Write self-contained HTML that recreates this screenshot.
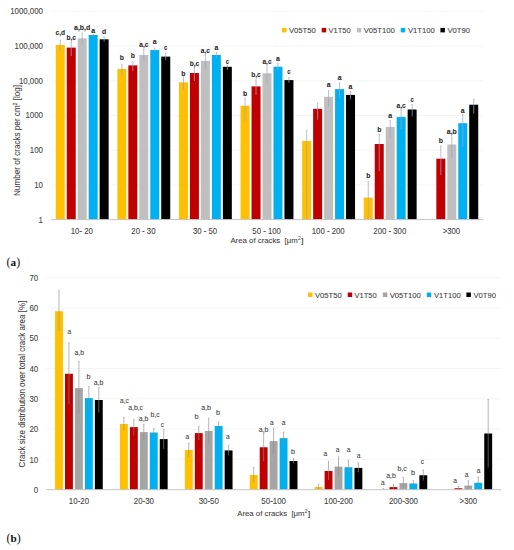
<!DOCTYPE html>
<html><head><meta charset="utf-8"><style>
html,body{margin:0;padding:0;background:#fff;}
svg{display:block;font-family:"Liberation Sans",sans-serif;}
</style></head><body>
<svg width="514" height="550" viewBox="0 0 514 550">
<rect width="514" height="550" fill="#fff"/>
<line x1="51.00" y1="184.90" x2="483.00" y2="184.90" stroke="#f2f2f2" stroke-width="0.8" stroke-opacity="1"/>
<line x1="51.00" y1="150.20" x2="483.00" y2="150.20" stroke="#f2f2f2" stroke-width="0.8" stroke-opacity="1"/>
<line x1="51.00" y1="115.50" x2="483.00" y2="115.50" stroke="#f2f2f2" stroke-width="0.8" stroke-opacity="1"/>
<line x1="51.00" y1="80.80" x2="483.00" y2="80.80" stroke="#f2f2f2" stroke-width="0.8" stroke-opacity="1"/>
<line x1="51.00" y1="46.10" x2="483.00" y2="46.10" stroke="#f2f2f2" stroke-width="0.8" stroke-opacity="1"/>
<line x1="51.00" y1="11.40" x2="483.00" y2="11.40" stroke="#f2f2f2" stroke-width="0.8" stroke-opacity="1"/>
<text x="38.61" y="222.55" font-size="8.4" fill="#404040" stroke="#404040" stroke-width="0.08" textLength="4.39" lengthAdjust="spacingAndGlyphs">1</text>
<text x="34.23" y="187.85" font-size="8.4" fill="#404040" stroke="#404040" stroke-width="0.08" textLength="8.77" lengthAdjust="spacingAndGlyphs">10</text>
<text x="29.84" y="153.15" font-size="8.4" fill="#404040" stroke="#404040" stroke-width="0.08" textLength="13.16" lengthAdjust="spacingAndGlyphs">100</text>
<text x="25.46" y="118.45" font-size="8.4" fill="#404040" stroke="#404040" stroke-width="0.08" textLength="17.54" lengthAdjust="spacingAndGlyphs">1000</text>
<text x="18.91" y="83.75" font-size="8.4" fill="#404040" stroke="#404040" stroke-width="0.08" textLength="24.09" lengthAdjust="spacingAndGlyphs">10,000</text>
<text x="14.52" y="49.05" font-size="8.4" fill="#404040" stroke="#404040" stroke-width="0.08" textLength="28.48" lengthAdjust="spacingAndGlyphs">100,000</text>
<text x="10.14" y="14.35" font-size="8.4" fill="#404040" stroke="#404040" stroke-width="0.08" textLength="32.86" lengthAdjust="spacingAndGlyphs">1000,000</text>
<rect x="55.76" y="44.90" width="9.00" height="174.70" fill="#FFC000"/>
<rect x="66.73" y="47.60" width="9.00" height="172.00" fill="#C00000"/>
<rect x="77.70" y="38.40" width="9.00" height="181.20" fill="#BFBFBF"/>
<rect x="88.67" y="35.00" width="9.00" height="184.60" fill="#00B0F0"/>
<rect x="99.64" y="39.30" width="9.00" height="180.30" fill="#000000"/>
<rect x="117.36" y="68.90" width="9.00" height="150.70" fill="#FFC000"/>
<rect x="128.33" y="65.40" width="9.00" height="154.20" fill="#C00000"/>
<rect x="139.30" y="55.00" width="9.00" height="164.60" fill="#BFBFBF"/>
<rect x="150.27" y="50.00" width="9.00" height="169.60" fill="#00B0F0"/>
<rect x="161.24" y="56.60" width="9.00" height="163.00" fill="#000000"/>
<rect x="178.96" y="82.30" width="9.00" height="137.30" fill="#FFC000"/>
<rect x="189.93" y="73.00" width="9.00" height="146.60" fill="#C00000"/>
<rect x="200.90" y="60.90" width="9.00" height="158.70" fill="#BFBFBF"/>
<rect x="211.87" y="55.00" width="9.00" height="164.60" fill="#00B0F0"/>
<rect x="222.84" y="66.80" width="9.00" height="152.80" fill="#000000"/>
<rect x="240.56" y="105.70" width="9.00" height="113.90" fill="#FFC000"/>
<rect x="251.53" y="86.40" width="9.00" height="133.20" fill="#C00000"/>
<rect x="262.50" y="73.30" width="9.00" height="146.30" fill="#BFBFBF"/>
<rect x="273.47" y="66.70" width="9.00" height="152.90" fill="#00B0F0"/>
<rect x="284.44" y="80.10" width="9.00" height="139.50" fill="#000000"/>
<rect x="302.16" y="141.00" width="9.00" height="78.60" fill="#FFC000"/>
<rect x="313.13" y="108.80" width="9.00" height="110.80" fill="#C00000"/>
<rect x="324.10" y="96.80" width="9.00" height="122.80" fill="#BFBFBF"/>
<rect x="335.07" y="89.10" width="9.00" height="130.50" fill="#00B0F0"/>
<rect x="346.04" y="94.90" width="9.00" height="124.70" fill="#000000"/>
<rect x="363.76" y="197.60" width="9.00" height="22.00" fill="#FFC000"/>
<rect x="374.73" y="144.00" width="9.00" height="75.60" fill="#C00000"/>
<rect x="385.70" y="126.90" width="9.00" height="92.70" fill="#BFBFBF"/>
<rect x="396.67" y="116.90" width="9.00" height="102.70" fill="#00B0F0"/>
<rect x="407.64" y="109.50" width="9.00" height="110.10" fill="#000000"/>
<rect x="436.33" y="158.70" width="9.00" height="60.90" fill="#C00000"/>
<rect x="447.30" y="144.50" width="9.00" height="75.10" fill="#BFBFBF"/>
<rect x="458.27" y="123.20" width="9.00" height="96.40" fill="#00B0F0"/>
<rect x="469.24" y="104.70" width="9.00" height="114.90" fill="#000000"/>
<line x1="60.26" y1="40.20" x2="60.26" y2="51.00" stroke="#9aa6c4" stroke-width="0.8" stroke-opacity="0.9"/>
<line x1="59.46" y1="40.20" x2="61.06" y2="40.20" stroke="#9aa6c4" stroke-width="0.6" stroke-opacity="0.9"/>
<text x="55.53" y="34.80" font-size="7.6" fill="#262626" stroke="#262626" stroke-width="0.08" textLength="9.46" lengthAdjust="spacingAndGlyphs" font-weight="bold">c,d</text>
<line x1="71.23" y1="42.40" x2="71.23" y2="56.00" stroke="#9aa6c4" stroke-width="0.8" stroke-opacity="0.9"/>
<line x1="70.43" y1="42.40" x2="72.03" y2="42.40" stroke="#9aa6c4" stroke-width="0.6" stroke-opacity="0.9"/>
<text x="66.50" y="40.00" font-size="7.6" fill="#262626" stroke="#262626" stroke-width="0.08" textLength="9.46" lengthAdjust="spacingAndGlyphs" font-weight="bold">b,c</text>
<line x1="82.20" y1="33.00" x2="82.20" y2="45.00" stroke="#9aa6c4" stroke-width="0.8" stroke-opacity="0.9"/>
<line x1="81.40" y1="33.00" x2="83.00" y2="33.00" stroke="#9aa6c4" stroke-width="0.6" stroke-opacity="0.9"/>
<text x="74.07" y="29.70" font-size="7.6" fill="#262626" stroke="#262626" stroke-width="0.08" textLength="16.26" lengthAdjust="spacingAndGlyphs" font-weight="bold">a,b,d</text>
<line x1="93.17" y1="34.30" x2="93.17" y2="36.00" stroke="#9aa6c4" stroke-width="0.8" stroke-opacity="0.9"/>
<line x1="92.37" y1="34.30" x2="93.97" y2="34.30" stroke="#9aa6c4" stroke-width="0.6" stroke-opacity="0.9"/>
<text x="91.24" y="32.50" font-size="7.6" fill="#262626" stroke="#262626" stroke-width="0.08" textLength="3.85" lengthAdjust="spacingAndGlyphs" font-weight="bold">a</text>
<line x1="104.14" y1="36.80" x2="104.14" y2="41.80" stroke="#9aa6c4" stroke-width="0.8" stroke-opacity="0.9"/>
<line x1="103.34" y1="36.80" x2="104.94" y2="36.80" stroke="#9aa6c4" stroke-width="0.6" stroke-opacity="0.9"/>
<text x="102.05" y="33.50" font-size="7.6" fill="#262626" stroke="#262626" stroke-width="0.08" textLength="4.19" lengthAdjust="spacingAndGlyphs" font-weight="bold">d</text>
<line x1="121.86" y1="64.30" x2="121.86" y2="76.00" stroke="#9aa6c4" stroke-width="0.8" stroke-opacity="0.9"/>
<line x1="121.06" y1="64.30" x2="122.66" y2="64.30" stroke="#9aa6c4" stroke-width="0.6" stroke-opacity="0.9"/>
<text x="119.77" y="60.00" font-size="7.6" fill="#262626" stroke="#262626" stroke-width="0.08" textLength="4.19" lengthAdjust="spacingAndGlyphs" font-weight="bold">b</text>
<line x1="132.83" y1="61.20" x2="132.83" y2="71.00" stroke="#9aa6c4" stroke-width="0.8" stroke-opacity="0.9"/>
<line x1="132.03" y1="61.20" x2="133.63" y2="61.20" stroke="#9aa6c4" stroke-width="0.6" stroke-opacity="0.9"/>
<text x="130.74" y="57.50" font-size="7.6" fill="#262626" stroke="#262626" stroke-width="0.08" textLength="4.19" lengthAdjust="spacingAndGlyphs" font-weight="bold">b</text>
<line x1="143.80" y1="49.70" x2="143.80" y2="61.80" stroke="#9aa6c4" stroke-width="0.8" stroke-opacity="0.9"/>
<line x1="143.00" y1="49.70" x2="144.60" y2="49.70" stroke="#9aa6c4" stroke-width="0.6" stroke-opacity="0.9"/>
<text x="139.24" y="46.90" font-size="7.6" fill="#262626" stroke="#262626" stroke-width="0.08" textLength="9.13" lengthAdjust="spacingAndGlyphs" font-weight="bold">a,c</text>
<line x1="154.77" y1="48.00" x2="154.77" y2="52.00" stroke="#9aa6c4" stroke-width="0.8" stroke-opacity="0.9"/>
<line x1="153.97" y1="48.00" x2="155.57" y2="48.00" stroke="#9aa6c4" stroke-width="0.6" stroke-opacity="0.9"/>
<text x="152.84" y="43.70" font-size="7.6" fill="#262626" stroke="#262626" stroke-width="0.08" textLength="3.85" lengthAdjust="spacingAndGlyphs" font-weight="bold">a</text>
<line x1="165.74" y1="53.00" x2="165.74" y2="60.00" stroke="#9aa6c4" stroke-width="0.8" stroke-opacity="0.9"/>
<line x1="164.94" y1="53.00" x2="166.54" y2="53.00" stroke="#9aa6c4" stroke-width="0.6" stroke-opacity="0.9"/>
<text x="164.11" y="49.70" font-size="7.6" fill="#262626" stroke="#262626" stroke-width="0.08" textLength="3.26" lengthAdjust="spacingAndGlyphs" font-weight="bold">c</text>
<line x1="183.46" y1="76.70" x2="183.46" y2="89.80" stroke="#9aa6c4" stroke-width="0.8" stroke-opacity="0.9"/>
<line x1="182.66" y1="76.70" x2="184.26" y2="76.70" stroke="#9aa6c4" stroke-width="0.6" stroke-opacity="0.9"/>
<text x="181.37" y="75.50" font-size="7.6" fill="#262626" stroke="#262626" stroke-width="0.08" textLength="4.19" lengthAdjust="spacingAndGlyphs" font-weight="bold">b</text>
<line x1="194.43" y1="66.80" x2="194.43" y2="81.00" stroke="#9aa6c4" stroke-width="0.8" stroke-opacity="0.9"/>
<line x1="193.63" y1="66.80" x2="195.23" y2="66.80" stroke="#9aa6c4" stroke-width="0.6" stroke-opacity="0.9"/>
<text x="189.70" y="66.20" font-size="7.6" fill="#262626" stroke="#262626" stroke-width="0.08" textLength="9.46" lengthAdjust="spacingAndGlyphs" font-weight="bold">b,c</text>
<line x1="205.40" y1="55.00" x2="205.40" y2="69.30" stroke="#9aa6c4" stroke-width="0.8" stroke-opacity="0.9"/>
<line x1="204.60" y1="55.00" x2="206.20" y2="55.00" stroke="#9aa6c4" stroke-width="0.6" stroke-opacity="0.9"/>
<text x="200.84" y="53.10" font-size="7.6" fill="#262626" stroke="#262626" stroke-width="0.08" textLength="9.13" lengthAdjust="spacingAndGlyphs" font-weight="bold">a,c</text>
<line x1="216.37" y1="52.50" x2="216.37" y2="57.50" stroke="#9aa6c4" stroke-width="0.8" stroke-opacity="0.9"/>
<line x1="215.57" y1="52.50" x2="217.17" y2="52.50" stroke="#9aa6c4" stroke-width="0.6" stroke-opacity="0.9"/>
<text x="214.44" y="50.00" font-size="7.6" fill="#262626" stroke="#262626" stroke-width="0.08" textLength="3.85" lengthAdjust="spacingAndGlyphs" font-weight="bold">a</text>
<line x1="227.34" y1="65.00" x2="227.34" y2="70.00" stroke="#9aa6c4" stroke-width="0.8" stroke-opacity="0.9"/>
<line x1="226.54" y1="65.00" x2="228.14" y2="65.00" stroke="#9aa6c4" stroke-width="0.6" stroke-opacity="0.9"/>
<text x="225.71" y="63.70" font-size="7.6" fill="#262626" stroke="#262626" stroke-width="0.08" textLength="3.26" lengthAdjust="spacingAndGlyphs" font-weight="bold">c</text>
<line x1="245.06" y1="98.00" x2="245.06" y2="121.30" stroke="#9aa6c4" stroke-width="0.8" stroke-opacity="0.9"/>
<line x1="244.26" y1="98.00" x2="245.86" y2="98.00" stroke="#9aa6c4" stroke-width="0.6" stroke-opacity="0.9"/>
<text x="242.97" y="96.30" font-size="7.6" fill="#262626" stroke="#262626" stroke-width="0.08" textLength="4.19" lengthAdjust="spacingAndGlyphs" font-weight="bold">b</text>
<line x1="256.03" y1="79.80" x2="256.03" y2="95.00" stroke="#9aa6c4" stroke-width="0.8" stroke-opacity="0.9"/>
<line x1="255.23" y1="79.80" x2="256.83" y2="79.80" stroke="#9aa6c4" stroke-width="0.6" stroke-opacity="0.9"/>
<text x="251.30" y="77.30" font-size="7.6" fill="#262626" stroke="#262626" stroke-width="0.08" textLength="9.46" lengthAdjust="spacingAndGlyphs" font-weight="bold">b,c</text>
<line x1="267.00" y1="66.70" x2="267.00" y2="84.20" stroke="#9aa6c4" stroke-width="0.8" stroke-opacity="0.9"/>
<line x1="266.20" y1="66.70" x2="267.80" y2="66.70" stroke="#9aa6c4" stroke-width="0.6" stroke-opacity="0.9"/>
<text x="262.44" y="64.10" font-size="7.6" fill="#262626" stroke="#262626" stroke-width="0.08" textLength="9.13" lengthAdjust="spacingAndGlyphs" font-weight="bold">a,c</text>
<line x1="277.97" y1="63.10" x2="277.97" y2="70.40" stroke="#9aa6c4" stroke-width="0.8" stroke-opacity="0.9"/>
<line x1="277.17" y1="63.10" x2="278.77" y2="63.10" stroke="#9aa6c4" stroke-width="0.6" stroke-opacity="0.9"/>
<text x="276.04" y="60.50" font-size="7.6" fill="#262626" stroke="#262626" stroke-width="0.08" textLength="3.85" lengthAdjust="spacingAndGlyphs" font-weight="bold">a</text>
<line x1="288.94" y1="77.60" x2="288.94" y2="82.70" stroke="#9aa6c4" stroke-width="0.8" stroke-opacity="0.9"/>
<line x1="288.14" y1="77.60" x2="289.74" y2="77.60" stroke="#9aa6c4" stroke-width="0.6" stroke-opacity="0.9"/>
<text x="287.31" y="74.30" font-size="7.6" fill="#262626" stroke="#262626" stroke-width="0.08" textLength="3.26" lengthAdjust="spacingAndGlyphs" font-weight="bold">c</text>
<line x1="306.66" y1="130.20" x2="306.66" y2="219.60" stroke="#9aa6c4" stroke-width="0.8" stroke-opacity="0.9"/>
<line x1="305.86" y1="130.20" x2="307.46" y2="130.20" stroke="#9aa6c4" stroke-width="0.6" stroke-opacity="0.9"/>
<line x1="317.63" y1="102.90" x2="317.63" y2="119.70" stroke="#9aa6c4" stroke-width="0.8" stroke-opacity="0.9"/>
<line x1="316.83" y1="102.90" x2="318.43" y2="102.90" stroke="#9aa6c4" stroke-width="0.6" stroke-opacity="0.9"/>
<line x1="328.60" y1="90.30" x2="328.60" y2="106.60" stroke="#9aa6c4" stroke-width="0.8" stroke-opacity="0.9"/>
<line x1="327.80" y1="90.30" x2="329.40" y2="90.30" stroke="#9aa6c4" stroke-width="0.6" stroke-opacity="0.9"/>
<text x="326.67" y="87.00" font-size="7.6" fill="#262626" stroke="#262626" stroke-width="0.08" textLength="3.85" lengthAdjust="spacingAndGlyphs" font-weight="bold">a</text>
<line x1="339.57" y1="82.90" x2="339.57" y2="97.60" stroke="#9aa6c4" stroke-width="0.8" stroke-opacity="0.9"/>
<line x1="338.77" y1="82.90" x2="340.37" y2="82.90" stroke="#9aa6c4" stroke-width="0.6" stroke-opacity="0.9"/>
<text x="337.64" y="79.60" font-size="7.6" fill="#262626" stroke="#262626" stroke-width="0.08" textLength="3.85" lengthAdjust="spacingAndGlyphs" font-weight="bold">a</text>
<line x1="350.54" y1="91.10" x2="350.54" y2="99.30" stroke="#9aa6c4" stroke-width="0.8" stroke-opacity="0.9"/>
<line x1="349.74" y1="91.10" x2="351.34" y2="91.10" stroke="#9aa6c4" stroke-width="0.6" stroke-opacity="0.9"/>
<text x="348.61" y="89.10" font-size="7.6" fill="#262626" stroke="#262626" stroke-width="0.08" textLength="3.85" lengthAdjust="spacingAndGlyphs" font-weight="bold">a</text>
<line x1="368.26" y1="181.00" x2="368.26" y2="219.60" stroke="#9aa6c4" stroke-width="0.8" stroke-opacity="0.9"/>
<line x1="367.46" y1="181.00" x2="369.06" y2="181.00" stroke="#9aa6c4" stroke-width="0.6" stroke-opacity="0.9"/>
<text x="366.17" y="177.70" font-size="7.6" fill="#262626" stroke="#262626" stroke-width="0.08" textLength="4.19" lengthAdjust="spacingAndGlyphs" font-weight="bold">b</text>
<line x1="379.23" y1="134.50" x2="379.23" y2="171.00" stroke="#9aa6c4" stroke-width="0.8" stroke-opacity="0.9"/>
<line x1="378.43" y1="134.50" x2="380.03" y2="134.50" stroke="#9aa6c4" stroke-width="0.6" stroke-opacity="0.9"/>
<text x="377.14" y="131.50" font-size="7.6" fill="#262626" stroke="#262626" stroke-width="0.08" textLength="4.19" lengthAdjust="spacingAndGlyphs" font-weight="bold">b</text>
<line x1="390.20" y1="120.50" x2="390.20" y2="138.20" stroke="#9aa6c4" stroke-width="0.8" stroke-opacity="0.9"/>
<line x1="389.40" y1="120.50" x2="391.00" y2="120.50" stroke="#9aa6c4" stroke-width="0.6" stroke-opacity="0.9"/>
<text x="388.27" y="118.20" font-size="7.6" fill="#262626" stroke="#262626" stroke-width="0.08" textLength="3.85" lengthAdjust="spacingAndGlyphs" font-weight="bold">a</text>
<line x1="401.17" y1="110.00" x2="401.17" y2="129.00" stroke="#9aa6c4" stroke-width="0.8" stroke-opacity="0.9"/>
<line x1="400.37" y1="110.00" x2="401.97" y2="110.00" stroke="#9aa6c4" stroke-width="0.6" stroke-opacity="0.9"/>
<text x="396.61" y="108.20" font-size="7.6" fill="#262626" stroke="#262626" stroke-width="0.08" textLength="9.13" lengthAdjust="spacingAndGlyphs" font-weight="bold">a,c</text>
<line x1="412.14" y1="104.50" x2="412.14" y2="116.40" stroke="#9aa6c4" stroke-width="0.8" stroke-opacity="0.9"/>
<line x1="411.34" y1="104.50" x2="412.94" y2="104.50" stroke="#9aa6c4" stroke-width="0.6" stroke-opacity="0.9"/>
<text x="410.51" y="101.80" font-size="7.6" fill="#262626" stroke="#262626" stroke-width="0.08" textLength="3.26" lengthAdjust="spacingAndGlyphs" font-weight="bold">c</text>
<line x1="440.83" y1="146.00" x2="440.83" y2="175.00" stroke="#9aa6c4" stroke-width="0.8" stroke-opacity="0.9"/>
<line x1="440.03" y1="146.00" x2="441.63" y2="146.00" stroke="#9aa6c4" stroke-width="0.6" stroke-opacity="0.9"/>
<text x="438.74" y="142.70" font-size="7.6" fill="#262626" stroke="#262626" stroke-width="0.08" textLength="4.19" lengthAdjust="spacingAndGlyphs" font-weight="bold">b</text>
<line x1="451.80" y1="137.10" x2="451.80" y2="158.70" stroke="#9aa6c4" stroke-width="0.8" stroke-opacity="0.9"/>
<line x1="451.00" y1="137.10" x2="452.60" y2="137.10" stroke="#9aa6c4" stroke-width="0.6" stroke-opacity="0.9"/>
<text x="446.77" y="133.90" font-size="7.6" fill="#262626" stroke="#262626" stroke-width="0.08" textLength="10.05" lengthAdjust="spacingAndGlyphs" font-weight="bold">a,b</text>
<line x1="462.77" y1="114.20" x2="462.77" y2="147.30" stroke="#9aa6c4" stroke-width="0.8" stroke-opacity="0.9"/>
<line x1="461.97" y1="114.20" x2="463.57" y2="114.20" stroke="#9aa6c4" stroke-width="0.6" stroke-opacity="0.9"/>
<text x="460.84" y="112.60" font-size="7.6" fill="#262626" stroke="#262626" stroke-width="0.08" textLength="3.85" lengthAdjust="spacingAndGlyphs" font-weight="bold">a</text>
<line x1="473.74" y1="99.00" x2="473.74" y2="113.70" stroke="#9aa6c4" stroke-width="0.8" stroke-opacity="0.9"/>
<line x1="472.94" y1="99.00" x2="474.54" y2="99.00" stroke="#9aa6c4" stroke-width="0.6" stroke-opacity="0.9"/>
<line x1="51.00" y1="219.60" x2="483.00" y2="219.60" stroke="#c4c4c8" stroke-width="1" stroke-opacity="1"/>
<text x="70.73" y="233.90" font-size="8.4" fill="#404040" stroke="#404040" stroke-width="0.08" textLength="22.14" lengthAdjust="spacingAndGlyphs">10- 20</text>
<text x="131.35" y="233.90" font-size="8.4" fill="#404040" stroke="#404040" stroke-width="0.08" textLength="24.10" lengthAdjust="spacingAndGlyphs">20 - 30</text>
<text x="192.95" y="233.90" font-size="8.4" fill="#404040" stroke="#404040" stroke-width="0.08" textLength="24.10" lengthAdjust="spacingAndGlyphs">30 - 50</text>
<text x="252.36" y="233.90" font-size="8.4" fill="#404040" stroke="#404040" stroke-width="0.08" textLength="28.48" lengthAdjust="spacingAndGlyphs">50 - 100</text>
<text x="311.76" y="233.90" font-size="8.4" fill="#404040" stroke="#404040" stroke-width="0.08" textLength="32.87" lengthAdjust="spacingAndGlyphs">100 - 200</text>
<text x="373.37" y="233.90" font-size="8.4" fill="#404040" stroke="#404040" stroke-width="0.08" textLength="32.87" lengthAdjust="spacingAndGlyphs">200 - 300</text>
<text x="442.67" y="233.90" font-size="8.4" fill="#404040" stroke="#404040" stroke-width="0.08" textLength="17.46" lengthAdjust="spacingAndGlyphs">&gt;300</text>
<text x="230.40" y="243.10" font-size="8.1" fill="#404040" stroke="#404040" stroke-width="0.08" textLength="67.40" lengthAdjust="spacingAndGlyphs">Area of cracks&#160; [&#956;m</text>
<text x="297.90" y="240.30" font-size="4.9" fill="#404040">2</text>
<text x="300.90" y="243.10" font-size="8.1" fill="#404040" stroke="#404040" stroke-width="0.08" textLength="2.66" lengthAdjust="spacingAndGlyphs">]</text>
<text transform="translate(20.1,196.0) rotate(-90)" font-size="8.3" fill="#404040" stroke="#404040" stroke-width="0.08" textLength="111" lengthAdjust="spacingAndGlyphs">Number of cracks per cm<tspan font-size="5" dy="-3">2</tspan><tspan dy="3"> [log]</tspan></text>
<rect x="282.00" y="27.90" width="4.50" height="4.50" fill="#FFC000"/>
<text x="289.00" y="32.90" font-size="8.1" fill="#404040" stroke="#404040" stroke-width="0.08" textLength="26.76" lengthAdjust="spacingAndGlyphs">V05T50</text>
<rect x="321.70" y="27.90" width="4.50" height="4.50" fill="#C00000"/>
<text x="328.40" y="32.90" font-size="8.1" fill="#404040" stroke="#404040" stroke-width="0.08" textLength="22.38" lengthAdjust="spacingAndGlyphs">V1T50</text>
<rect x="356.80" y="27.90" width="4.50" height="4.50" fill="#BFBFBF"/>
<text x="363.70" y="32.90" font-size="8.1" fill="#404040" stroke="#404040" stroke-width="0.08" textLength="31.15" lengthAdjust="spacingAndGlyphs">V05T100</text>
<rect x="400.75" y="27.90" width="4.50" height="4.50" fill="#00B0F0"/>
<text x="407.90" y="32.90" font-size="8.1" fill="#404040" stroke="#404040" stroke-width="0.08" textLength="26.76" lengthAdjust="spacingAndGlyphs">V1T100</text>
<rect x="440.40" y="27.90" width="4.50" height="4.50" fill="#000000"/>
<text x="447.50" y="32.90" font-size="8.1" fill="#404040" stroke="#404040" stroke-width="0.08" textLength="22.38" lengthAdjust="spacingAndGlyphs">V0T90</text>
<text x="6.6" y="265.9" font-family="Liberation Serif" font-size="12" fill="#111">(<tspan font-size="11.2" font-weight="bold">a</tspan>)</text>
<line x1="46.50" y1="459.40" x2="501.10" y2="459.40" stroke="#f2f2f2" stroke-width="0.8" stroke-opacity="1"/>
<line x1="46.50" y1="429.10" x2="501.10" y2="429.10" stroke="#f2f2f2" stroke-width="0.8" stroke-opacity="1"/>
<line x1="46.50" y1="398.80" x2="501.10" y2="398.80" stroke="#f2f2f2" stroke-width="0.8" stroke-opacity="1"/>
<line x1="46.50" y1="368.50" x2="501.10" y2="368.50" stroke="#f2f2f2" stroke-width="0.8" stroke-opacity="1"/>
<line x1="46.50" y1="338.20" x2="501.10" y2="338.20" stroke="#f2f2f2" stroke-width="0.8" stroke-opacity="1"/>
<line x1="46.50" y1="307.90" x2="501.10" y2="307.90" stroke="#f2f2f2" stroke-width="0.8" stroke-opacity="1"/>
<line x1="46.50" y1="277.60" x2="501.10" y2="277.60" stroke="#f2f2f2" stroke-width="0.8" stroke-opacity="1"/>
<text x="33.81" y="492.80" font-size="8.4" fill="#404040" stroke="#404040" stroke-width="0.08" textLength="4.39" lengthAdjust="spacingAndGlyphs">0</text>
<text x="29.43" y="462.50" font-size="8.4" fill="#404040" stroke="#404040" stroke-width="0.08" textLength="8.77" lengthAdjust="spacingAndGlyphs">10</text>
<text x="29.43" y="432.20" font-size="8.4" fill="#404040" stroke="#404040" stroke-width="0.08" textLength="8.77" lengthAdjust="spacingAndGlyphs">20</text>
<text x="29.43" y="401.90" font-size="8.4" fill="#404040" stroke="#404040" stroke-width="0.08" textLength="8.77" lengthAdjust="spacingAndGlyphs">30</text>
<text x="29.43" y="371.60" font-size="8.4" fill="#404040" stroke="#404040" stroke-width="0.08" textLength="8.77" lengthAdjust="spacingAndGlyphs">40</text>
<text x="29.43" y="341.30" font-size="8.4" fill="#404040" stroke="#404040" stroke-width="0.08" textLength="8.77" lengthAdjust="spacingAndGlyphs">50</text>
<text x="29.43" y="311.00" font-size="8.4" fill="#404040" stroke="#404040" stroke-width="0.08" textLength="8.77" lengthAdjust="spacingAndGlyphs">60</text>
<text x="29.43" y="280.70" font-size="8.4" fill="#404040" stroke="#404040" stroke-width="0.08" textLength="8.77" lengthAdjust="spacingAndGlyphs">70</text>
<rect x="55.05" y="311.25" width="7.90" height="178.45" fill="#FFC000"/>
<rect x="65.00" y="373.75" width="7.90" height="115.95" fill="#C00000"/>
<rect x="74.95" y="388.10" width="7.90" height="101.60" fill="#A5A5A5"/>
<rect x="84.90" y="398.10" width="7.90" height="91.60" fill="#00B0F0"/>
<rect x="94.85" y="400.00" width="7.90" height="89.70" fill="#000000"/>
<rect x="119.95" y="424.00" width="7.90" height="65.70" fill="#FFC000"/>
<rect x="129.90" y="427.10" width="7.90" height="62.60" fill="#C00000"/>
<rect x="139.85" y="432.10" width="7.90" height="57.60" fill="#A5A5A5"/>
<rect x="149.80" y="432.50" width="7.90" height="57.20" fill="#00B0F0"/>
<rect x="159.75" y="439.10" width="7.90" height="50.60" fill="#000000"/>
<rect x="184.85" y="450.00" width="7.90" height="39.70" fill="#FFC000"/>
<rect x="194.80" y="433.10" width="7.90" height="56.60" fill="#C00000"/>
<rect x="204.75" y="431.00" width="7.90" height="58.70" fill="#A5A5A5"/>
<rect x="214.70" y="426.00" width="7.90" height="63.70" fill="#00B0F0"/>
<rect x="224.65" y="450.40" width="7.90" height="39.30" fill="#000000"/>
<rect x="249.75" y="475.00" width="7.90" height="14.70" fill="#FFC000"/>
<rect x="259.70" y="447.25" width="7.90" height="42.45" fill="#C00000"/>
<rect x="269.65" y="441.10" width="7.90" height="48.60" fill="#A5A5A5"/>
<rect x="279.60" y="438.10" width="7.90" height="51.60" fill="#00B0F0"/>
<rect x="289.55" y="461.00" width="7.90" height="28.70" fill="#000000"/>
<rect x="314.65" y="487.00" width="7.90" height="2.70" fill="#FFC000"/>
<rect x="324.60" y="471.00" width="7.90" height="18.70" fill="#C00000"/>
<rect x="334.55" y="466.60" width="7.90" height="23.10" fill="#A5A5A5"/>
<rect x="344.50" y="467.25" width="7.90" height="22.45" fill="#00B0F0"/>
<rect x="354.45" y="467.90" width="7.90" height="21.80" fill="#000000"/>
<rect x="379.55" y="489.30" width="7.90" height="0.40" fill="#FFC000"/>
<rect x="389.50" y="487.10" width="7.90" height="2.60" fill="#C00000"/>
<rect x="399.45" y="483.10" width="7.90" height="6.60" fill="#A5A5A5"/>
<rect x="409.40" y="483.50" width="7.90" height="6.20" fill="#00B0F0"/>
<rect x="419.35" y="475.25" width="7.90" height="14.45" fill="#000000"/>
<rect x="454.40" y="488.25" width="7.90" height="1.45" fill="#C00000"/>
<rect x="464.35" y="485.60" width="7.90" height="4.10" fill="#A5A5A5"/>
<rect x="474.30" y="482.75" width="7.90" height="6.95" fill="#00B0F0"/>
<rect x="484.25" y="433.50" width="7.90" height="56.20" fill="#000000"/>
<line x1="59.00" y1="290.60" x2="59.00" y2="331.25" stroke="#8c8c8c" stroke-width="0.8" stroke-opacity="0.8"/>
<line x1="58.20" y1="290.60" x2="59.80" y2="290.60" stroke="#8c8c8c" stroke-width="0.6" stroke-opacity="0.8"/>
<line x1="68.95" y1="342.75" x2="68.95" y2="404.40" stroke="#8c8c8c" stroke-width="0.8" stroke-opacity="0.8"/>
<line x1="68.15" y1="342.75" x2="69.75" y2="342.75" stroke="#8c8c8c" stroke-width="0.6" stroke-opacity="0.8"/>
<text x="67.56" y="334.40" font-size="7.3" fill="#404040" stroke="#404040" stroke-width="0.08" textLength="3.69" lengthAdjust="spacingAndGlyphs">a</text>
<line x1="78.90" y1="361.50" x2="78.90" y2="414.40" stroke="#8c8c8c" stroke-width="0.8" stroke-opacity="0.8"/>
<line x1="78.10" y1="361.50" x2="79.70" y2="361.50" stroke="#8c8c8c" stroke-width="0.6" stroke-opacity="0.8"/>
<text x="74.42" y="354.75" font-size="7.3" fill="#404040" stroke="#404040" stroke-width="0.08" textLength="9.66" lengthAdjust="spacingAndGlyphs">a,b</text>
<line x1="88.85" y1="386.25" x2="88.85" y2="409.75" stroke="#8c8c8c" stroke-width="0.8" stroke-opacity="0.8"/>
<line x1="88.05" y1="386.25" x2="89.65" y2="386.25" stroke="#8c8c8c" stroke-width="0.6" stroke-opacity="0.8"/>
<text x="86.48" y="378.75" font-size="7.3" fill="#404040" stroke="#404040" stroke-width="0.08" textLength="4.04" lengthAdjust="spacingAndGlyphs">b</text>
<line x1="98.80" y1="387.75" x2="98.80" y2="412.50" stroke="#8c8c8c" stroke-width="0.8" stroke-opacity="0.8"/>
<line x1="98.00" y1="387.75" x2="99.60" y2="387.75" stroke="#8c8c8c" stroke-width="0.6" stroke-opacity="0.8"/>
<text x="93.77" y="384.60" font-size="7.3" fill="#404040" stroke="#404040" stroke-width="0.08" textLength="9.66" lengthAdjust="spacingAndGlyphs">a,b</text>
<line x1="123.90" y1="417.50" x2="123.90" y2="430.50" stroke="#8c8c8c" stroke-width="0.8" stroke-opacity="0.8"/>
<line x1="123.10" y1="417.50" x2="124.70" y2="417.50" stroke="#8c8c8c" stroke-width="0.6" stroke-opacity="0.8"/>
<text x="120.06" y="402.90" font-size="7.3" fill="#404040" stroke="#404040" stroke-width="0.08" textLength="8.87" lengthAdjust="spacingAndGlyphs">a,c</text>
<line x1="133.85" y1="419.40" x2="133.85" y2="435.60" stroke="#8c8c8c" stroke-width="0.8" stroke-opacity="0.8"/>
<line x1="133.05" y1="419.40" x2="134.65" y2="419.40" stroke="#8c8c8c" stroke-width="0.6" stroke-opacity="0.8"/>
<text x="128.18" y="410.00" font-size="7.3" fill="#404040" stroke="#404040" stroke-width="0.08" textLength="14.84" lengthAdjust="spacingAndGlyphs">a,b,c</text>
<line x1="143.80" y1="424.40" x2="143.80" y2="440.00" stroke="#8c8c8c" stroke-width="0.8" stroke-opacity="0.8"/>
<line x1="143.00" y1="424.40" x2="144.60" y2="424.40" stroke="#8c8c8c" stroke-width="0.6" stroke-opacity="0.8"/>
<text x="138.77" y="421.25" font-size="7.3" fill="#404040" stroke="#404040" stroke-width="0.08" textLength="9.66" lengthAdjust="spacingAndGlyphs">a,b</text>
<line x1="153.75" y1="428.50" x2="153.75" y2="436.90" stroke="#8c8c8c" stroke-width="0.8" stroke-opacity="0.8"/>
<line x1="152.95" y1="428.50" x2="154.55" y2="428.50" stroke="#8c8c8c" stroke-width="0.6" stroke-opacity="0.8"/>
<text x="150.49" y="417.10" font-size="7.3" fill="#404040" stroke="#404040" stroke-width="0.08" textLength="9.22" lengthAdjust="spacingAndGlyphs">b,c</text>
<line x1="163.70" y1="429.40" x2="163.70" y2="448.80" stroke="#8c8c8c" stroke-width="0.8" stroke-opacity="0.8"/>
<line x1="162.90" y1="429.40" x2="164.50" y2="429.40" stroke="#8c8c8c" stroke-width="0.6" stroke-opacity="0.8"/>
<text x="160.87" y="426.90" font-size="7.3" fill="#404040" stroke="#404040" stroke-width="0.08" textLength="3.26" lengthAdjust="spacingAndGlyphs">c</text>
<line x1="188.80" y1="443.10" x2="188.80" y2="456.90" stroke="#8c8c8c" stroke-width="0.8" stroke-opacity="0.8"/>
<line x1="188.00" y1="443.10" x2="189.60" y2="443.10" stroke="#8c8c8c" stroke-width="0.6" stroke-opacity="0.8"/>
<text x="185.56" y="438.75" font-size="7.3" fill="#404040" stroke="#404040" stroke-width="0.08" textLength="3.69" lengthAdjust="spacingAndGlyphs">a</text>
<line x1="198.75" y1="426.25" x2="198.75" y2="440.00" stroke="#8c8c8c" stroke-width="0.8" stroke-opacity="0.8"/>
<line x1="197.95" y1="426.25" x2="199.55" y2="426.25" stroke="#8c8c8c" stroke-width="0.6" stroke-opacity="0.8"/>
<text x="194.38" y="419.40" font-size="7.3" fill="#404040" stroke="#404040" stroke-width="0.08" textLength="4.04" lengthAdjust="spacingAndGlyphs">b</text>
<line x1="208.70" y1="418.10" x2="208.70" y2="444.40" stroke="#8c8c8c" stroke-width="0.8" stroke-opacity="0.8"/>
<line x1="207.90" y1="418.10" x2="209.50" y2="418.10" stroke="#8c8c8c" stroke-width="0.6" stroke-opacity="0.8"/>
<text x="201.17" y="410.00" font-size="7.3" fill="#404040" stroke="#404040" stroke-width="0.08" textLength="9.66" lengthAdjust="spacingAndGlyphs">a,b</text>
<line x1="218.65" y1="421.90" x2="218.65" y2="430.00" stroke="#8c8c8c" stroke-width="0.8" stroke-opacity="0.8"/>
<line x1="217.85" y1="421.90" x2="219.45" y2="421.90" stroke="#8c8c8c" stroke-width="0.6" stroke-opacity="0.8"/>
<text x="216.08" y="415.00" font-size="7.3" fill="#404040" stroke="#404040" stroke-width="0.08" textLength="4.04" lengthAdjust="spacingAndGlyphs">b</text>
<line x1="228.60" y1="445.25" x2="228.60" y2="455.60" stroke="#8c8c8c" stroke-width="0.8" stroke-opacity="0.8"/>
<line x1="227.80" y1="445.25" x2="229.40" y2="445.25" stroke="#8c8c8c" stroke-width="0.6" stroke-opacity="0.8"/>
<text x="225.91" y="438.75" font-size="7.3" fill="#404040" stroke="#404040" stroke-width="0.08" textLength="3.69" lengthAdjust="spacingAndGlyphs">a</text>
<line x1="253.70" y1="467.30" x2="253.70" y2="482.50" stroke="#8c8c8c" stroke-width="0.8" stroke-opacity="0.8"/>
<line x1="252.90" y1="467.30" x2="254.50" y2="467.30" stroke="#8c8c8c" stroke-width="0.6" stroke-opacity="0.8"/>
<line x1="263.65" y1="433.10" x2="263.65" y2="461.25" stroke="#8c8c8c" stroke-width="0.8" stroke-opacity="0.8"/>
<line x1="262.85" y1="433.10" x2="264.45" y2="433.10" stroke="#8c8c8c" stroke-width="0.6" stroke-opacity="0.8"/>
<text x="258.77" y="431.60" font-size="7.3" fill="#404040" stroke="#404040" stroke-width="0.08" textLength="9.66" lengthAdjust="spacingAndGlyphs">a,b</text>
<line x1="273.60" y1="428.10" x2="273.60" y2="453.75" stroke="#8c8c8c" stroke-width="0.8" stroke-opacity="0.8"/>
<line x1="272.80" y1="428.10" x2="274.40" y2="428.10" stroke="#8c8c8c" stroke-width="0.6" stroke-opacity="0.8"/>
<text x="269.91" y="425.00" font-size="7.3" fill="#404040" stroke="#404040" stroke-width="0.08" textLength="3.69" lengthAdjust="spacingAndGlyphs">a</text>
<line x1="283.55" y1="432.10" x2="283.55" y2="444.40" stroke="#8c8c8c" stroke-width="0.8" stroke-opacity="0.8"/>
<line x1="282.75" y1="432.10" x2="284.35" y2="432.10" stroke="#8c8c8c" stroke-width="0.6" stroke-opacity="0.8"/>
<text x="281.76" y="424.90" font-size="7.3" fill="#404040" stroke="#404040" stroke-width="0.08" textLength="3.69" lengthAdjust="spacingAndGlyphs">a</text>
<line x1="293.50" y1="458.50" x2="293.50" y2="463.50" stroke="#8c8c8c" stroke-width="0.8" stroke-opacity="0.8"/>
<line x1="292.70" y1="458.50" x2="294.30" y2="458.50" stroke="#8c8c8c" stroke-width="0.6" stroke-opacity="0.8"/>
<text x="291.08" y="454.40" font-size="7.3" fill="#404040" stroke="#404040" stroke-width="0.08" textLength="4.04" lengthAdjust="spacingAndGlyphs">b</text>
<line x1="318.60" y1="484.20" x2="318.60" y2="489.70" stroke="#8c8c8c" stroke-width="0.8" stroke-opacity="0.8"/>
<line x1="317.80" y1="484.20" x2="319.40" y2="484.20" stroke="#8c8c8c" stroke-width="0.6" stroke-opacity="0.8"/>
<line x1="328.55" y1="461.25" x2="328.55" y2="480.00" stroke="#8c8c8c" stroke-width="0.8" stroke-opacity="0.8"/>
<line x1="327.75" y1="461.25" x2="329.35" y2="461.25" stroke="#8c8c8c" stroke-width="0.6" stroke-opacity="0.8"/>
<text x="323.41" y="455.60" font-size="7.3" fill="#404040" stroke="#404040" stroke-width="0.08" textLength="3.69" lengthAdjust="spacingAndGlyphs">a</text>
<line x1="338.50" y1="456.90" x2="338.50" y2="476.00" stroke="#8c8c8c" stroke-width="0.8" stroke-opacity="0.8"/>
<line x1="337.70" y1="456.90" x2="339.30" y2="456.90" stroke="#8c8c8c" stroke-width="0.6" stroke-opacity="0.8"/>
<text x="335.66" y="451.90" font-size="7.3" fill="#404040" stroke="#404040" stroke-width="0.08" textLength="3.69" lengthAdjust="spacingAndGlyphs">a</text>
<line x1="348.45" y1="460.25" x2="348.45" y2="473.75" stroke="#8c8c8c" stroke-width="0.8" stroke-opacity="0.8"/>
<line x1="347.65" y1="460.25" x2="349.25" y2="460.25" stroke="#8c8c8c" stroke-width="0.6" stroke-opacity="0.8"/>
<text x="346.86" y="451.90" font-size="7.3" fill="#404040" stroke="#404040" stroke-width="0.08" textLength="3.69" lengthAdjust="spacingAndGlyphs">a</text>
<line x1="358.40" y1="462.75" x2="358.40" y2="472.50" stroke="#8c8c8c" stroke-width="0.8" stroke-opacity="0.8"/>
<line x1="357.60" y1="462.75" x2="359.20" y2="462.75" stroke="#8c8c8c" stroke-width="0.6" stroke-opacity="0.8"/>
<text x="356.86" y="457.75" font-size="7.3" fill="#404040" stroke="#404040" stroke-width="0.08" textLength="3.69" lengthAdjust="spacingAndGlyphs">a</text>
<line x1="383.50" y1="488.50" x2="383.50" y2="489.70" stroke="#8c8c8c" stroke-width="0.8" stroke-opacity="0.8"/>
<line x1="382.70" y1="488.50" x2="384.30" y2="488.50" stroke="#8c8c8c" stroke-width="0.6" stroke-opacity="0.8"/>
<text x="381.06" y="485.25" font-size="7.3" fill="#404040" stroke="#404040" stroke-width="0.08" textLength="3.69" lengthAdjust="spacingAndGlyphs">a</text>
<line x1="393.45" y1="484.40" x2="393.45" y2="489.70" stroke="#8c8c8c" stroke-width="0.8" stroke-opacity="0.8"/>
<line x1="392.65" y1="484.40" x2="394.25" y2="484.40" stroke="#8c8c8c" stroke-width="0.6" stroke-opacity="0.8"/>
<text x="386.17" y="477.50" font-size="7.3" fill="#404040" stroke="#404040" stroke-width="0.08" textLength="9.66" lengthAdjust="spacingAndGlyphs">a,b</text>
<line x1="403.40" y1="477.50" x2="403.40" y2="488.60" stroke="#8c8c8c" stroke-width="0.8" stroke-opacity="0.8"/>
<line x1="402.60" y1="477.50" x2="404.20" y2="477.50" stroke="#8c8c8c" stroke-width="0.6" stroke-opacity="0.8"/>
<text x="397.49" y="470.60" font-size="7.3" fill="#404040" stroke="#404040" stroke-width="0.08" textLength="9.22" lengthAdjust="spacingAndGlyphs">b,c</text>
<line x1="413.35" y1="480.60" x2="413.35" y2="486.40" stroke="#8c8c8c" stroke-width="0.8" stroke-opacity="0.8"/>
<line x1="412.55" y1="480.60" x2="414.15" y2="480.60" stroke="#8c8c8c" stroke-width="0.6" stroke-opacity="0.8"/>
<text x="410.98" y="475.00" font-size="7.3" fill="#404040" stroke="#404040" stroke-width="0.08" textLength="4.04" lengthAdjust="spacingAndGlyphs">b</text>
<line x1="423.30" y1="470.00" x2="423.30" y2="480.50" stroke="#8c8c8c" stroke-width="0.8" stroke-opacity="0.8"/>
<line x1="422.50" y1="470.00" x2="424.10" y2="470.00" stroke="#8c8c8c" stroke-width="0.6" stroke-opacity="0.8"/>
<text x="420.77" y="464.40" font-size="7.3" fill="#404040" stroke="#404040" stroke-width="0.08" textLength="3.26" lengthAdjust="spacingAndGlyphs">c</text>
<line x1="458.35" y1="486.25" x2="458.35" y2="489.70" stroke="#8c8c8c" stroke-width="0.8" stroke-opacity="0.8"/>
<line x1="457.55" y1="486.25" x2="459.15" y2="486.25" stroke="#8c8c8c" stroke-width="0.6" stroke-opacity="0.8"/>
<text x="453.26" y="482.50" font-size="7.3" fill="#404040" stroke="#404040" stroke-width="0.08" textLength="3.69" lengthAdjust="spacingAndGlyphs">a</text>
<line x1="468.30" y1="480.60" x2="468.30" y2="489.70" stroke="#8c8c8c" stroke-width="0.8" stroke-opacity="0.8"/>
<line x1="467.50" y1="480.60" x2="469.10" y2="480.60" stroke="#8c8c8c" stroke-width="0.6" stroke-opacity="0.8"/>
<text x="464.66" y="477.25" font-size="7.3" fill="#404040" stroke="#404040" stroke-width="0.08" textLength="3.69" lengthAdjust="spacingAndGlyphs">a</text>
<line x1="478.25" y1="476.90" x2="478.25" y2="488.60" stroke="#8c8c8c" stroke-width="0.8" stroke-opacity="0.8"/>
<line x1="477.45" y1="476.90" x2="479.05" y2="476.90" stroke="#8c8c8c" stroke-width="0.6" stroke-opacity="0.8"/>
<text x="476.66" y="472.75" font-size="7.3" fill="#404040" stroke="#404040" stroke-width="0.08" textLength="3.69" lengthAdjust="spacingAndGlyphs">a</text>
<line x1="488.20" y1="399.40" x2="488.20" y2="467.60" stroke="#8c8c8c" stroke-width="0.8" stroke-opacity="0.8"/>
<line x1="487.40" y1="399.40" x2="489.00" y2="399.40" stroke="#8c8c8c" stroke-width="0.6" stroke-opacity="0.8"/>
<line x1="46.50" y1="489.70" x2="501.10" y2="489.70" stroke="#c4c4c8" stroke-width="1" stroke-opacity="1"/>
<text x="68.86" y="504.00" font-size="8.4" fill="#404040" stroke="#404040" stroke-width="0.08" textLength="20.19" lengthAdjust="spacingAndGlyphs">10-20</text>
<text x="133.76" y="504.00" font-size="8.4" fill="#404040" stroke="#404040" stroke-width="0.08" textLength="20.19" lengthAdjust="spacingAndGlyphs">20-30</text>
<text x="198.66" y="504.00" font-size="8.4" fill="#404040" stroke="#404040" stroke-width="0.08" textLength="20.19" lengthAdjust="spacingAndGlyphs">30-50</text>
<text x="261.36" y="504.00" font-size="8.4" fill="#404040" stroke="#404040" stroke-width="0.08" textLength="24.57" lengthAdjust="spacingAndGlyphs">50-100</text>
<text x="324.07" y="504.00" font-size="8.4" fill="#404040" stroke="#404040" stroke-width="0.08" textLength="28.96" lengthAdjust="spacingAndGlyphs">100-200</text>
<text x="388.97" y="504.00" font-size="8.4" fill="#404040" stroke="#404040" stroke-width="0.08" textLength="28.96" lengthAdjust="spacingAndGlyphs">200-300</text>
<text x="459.62" y="504.00" font-size="8.4" fill="#404040" stroke="#404040" stroke-width="0.08" textLength="17.46" lengthAdjust="spacingAndGlyphs">&gt;300</text>
<text x="237.20" y="515.60" font-size="8.1" fill="#404040" stroke="#404040" stroke-width="0.08" textLength="67.40" lengthAdjust="spacingAndGlyphs">Area of cracks&#160; [&#956;m</text>
<text x="304.70" y="512.80" font-size="4.9" fill="#404040">2</text>
<text x="307.70" y="515.60" font-size="8.1" fill="#404040" stroke="#404040" stroke-width="0.08" textLength="2.66" lengthAdjust="spacingAndGlyphs">]</text>
<text transform="translate(24.6,467.4) rotate(-90)" font-size="8.2" fill="#404040" stroke="#404040" stroke-width="0.08" textLength="166.7" lengthAdjust="spacingAndGlyphs">Crack size distribution over total crack area [%]</text>
<rect x="308.00" y="292.50" width="4.50" height="4.50" fill="#FFC000"/>
<text x="315.00" y="297.50" font-size="8.1" fill="#404040" stroke="#404040" stroke-width="0.08" textLength="26.76" lengthAdjust="spacingAndGlyphs">V05T50</text>
<rect x="347.70" y="292.50" width="4.50" height="4.50" fill="#C00000"/>
<text x="354.40" y="297.50" font-size="8.1" fill="#404040" stroke="#404040" stroke-width="0.08" textLength="22.38" lengthAdjust="spacingAndGlyphs">V1T50</text>
<rect x="382.80" y="292.50" width="4.50" height="4.50" fill="#A5A5A5"/>
<text x="389.70" y="297.50" font-size="8.1" fill="#404040" stroke="#404040" stroke-width="0.08" textLength="31.15" lengthAdjust="spacingAndGlyphs">V05T100</text>
<rect x="426.75" y="292.50" width="4.50" height="4.50" fill="#00B0F0"/>
<text x="433.90" y="297.50" font-size="8.1" fill="#404040" stroke="#404040" stroke-width="0.08" textLength="26.76" lengthAdjust="spacingAndGlyphs">V1T100</text>
<rect x="466.40" y="292.50" width="4.50" height="4.50" fill="#000000"/>
<text x="473.50" y="297.50" font-size="8.1" fill="#404040" stroke="#404040" stroke-width="0.08" textLength="22.38" lengthAdjust="spacingAndGlyphs">V0T90</text>
<text x="6.6" y="541.9" font-family="Liberation Serif" font-size="12" fill="#111">(<tspan font-size="11.2" font-weight="bold">b</tspan>)</text>
</svg></body></html>
